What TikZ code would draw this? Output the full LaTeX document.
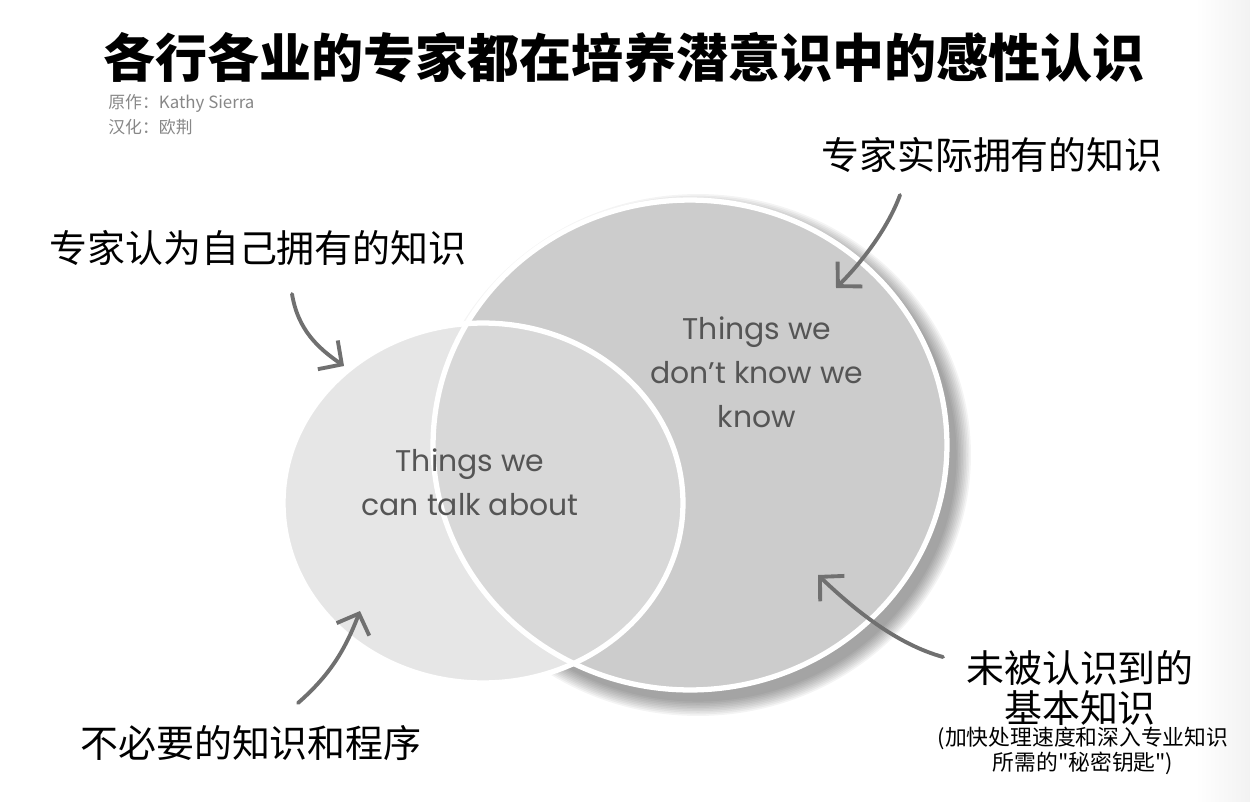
\documentclass[tikz,border=0pt]{standalone}
\usepackage{fontspec}
\newfontfamily\cjk{Noto Sans CJK SC}
\newfontfamily\hand{Poppins}
\usetikzlibrary{arrows.meta}
\definecolor{bigfill}{RGB}{204,204,204}
\definecolor{smallfill}{RGB}{222,222,222}
\definecolor{arrowgray}{RGB}{112,112,112}
\definecolor{handink}{RGB}{85,85,85}
\definecolor{creditgray}{RGB}{135,135,135}

\begin{document}
\begin{tikzpicture}[x=0.02cm,y=-0.02cm,
  cjklabel/.style={font=\cjk\fontsize{21.6pt}{23pt}\selectfont, inner sep=0pt, align=center},
  notetext/.style={font=\cjk\fontsize{12.4pt}{12.8pt}\selectfont, inner sep=0pt, align=center},
  credit/.style={font=\cjk\fontsize{9.6pt}{10pt}\selectfont, text=creditgray, inner sep=0pt, anchor=west},
  handtext/.style={font=\hand\fontsize{17pt}{25pt}\selectfont, text=handink, align=center, inner sep=0pt},
  penarrow/.style={draw=arrowgray, line width=2.2pt, line cap=round, -{Straight Barb[length=3.4mm,width=7mm]}},
  ]
\useasboundingbox (0,0) rectangle (1250,801);
\shade[left color=white,right color=black!5] (1195,0) rectangle (1250,801);

\foreach \i in {1,...,10}
  \fill[black,opacity=0.045] (698,455) ellipse [x radius=5.14cm+\i*0.032cm, y radius=4.9cm+\i*0.032cm];
\fill[smallfill] (483,503) ellipse [x radius=4cm, y radius=3.6cm];
\filldraw[fill=bigfill, draw=white, line width=3pt] (690,445) ellipse [x radius=5.14cm, y radius=4.9cm];
\filldraw[fill=white, fill opacity=0.25, draw=white, line width=3pt] (483,503) ellipse [x radius=4cm, y radius=3.6cm];

\node[font=\cjk\bfseries\fontsize{29.6pt}{32pt}\selectfont, inner sep=0pt] (title) at (624,58) {各行各业的专家都在培养潜意识中的感性认识};
\node[credit] (author) at (108,103) {原作：Kathy Sierra};
\node[credit] (translator) at (108,127) {汉化：欧荆};

\node[handtext] (dontknow) at (757,372) {Things we\\don’t know we\\know};
\node[handtext] (talk) at (470,482) {Things we\\can talk about};

\node[cjklabel] (actual) at (992,155) {专家实际拥有的知识};
\node[cjklabel] (think) at (258,248) {专家认为自己拥有的知识};
\node[cjklabel] (useless) at (251,743) {不必要的知识和程序};
\node[cjklabel] (unknown) at (1080,688) {未被认识到的\\基本知识};
\node[notetext] (keys) at (1083,751) {(加快处理速度和深入专业知识\\所需的"秘密钥匙")};

\coordinate (thinkTail) at (292,294);
\coordinate (thinkTip) at (344,366);
\coordinate (actualTail) at (900,195);
\coordinate (actualTip) at (836,288);
\coordinate (uselessTail) at (298,703);
\coordinate (uselessTip) at (360,611);
\coordinate (unknownTail) at (943,657);
\coordinate (unknownTip) at (818,575);
\draw[penarrow] (thinkTail) .. controls (298,330) and (318,348) .. (thinkTip);
\draw[penarrow] (actualTail) .. controls (888,228) and (862,262) .. (actualTip);
\draw[penarrow] (uselessTail) .. controls (330,675) and (345,650) .. (uselessTip);
\draw[penarrow] (unknownTail) .. controls (900,645) and (860,615) .. (unknownTip);
\end{tikzpicture}
\end{document}
